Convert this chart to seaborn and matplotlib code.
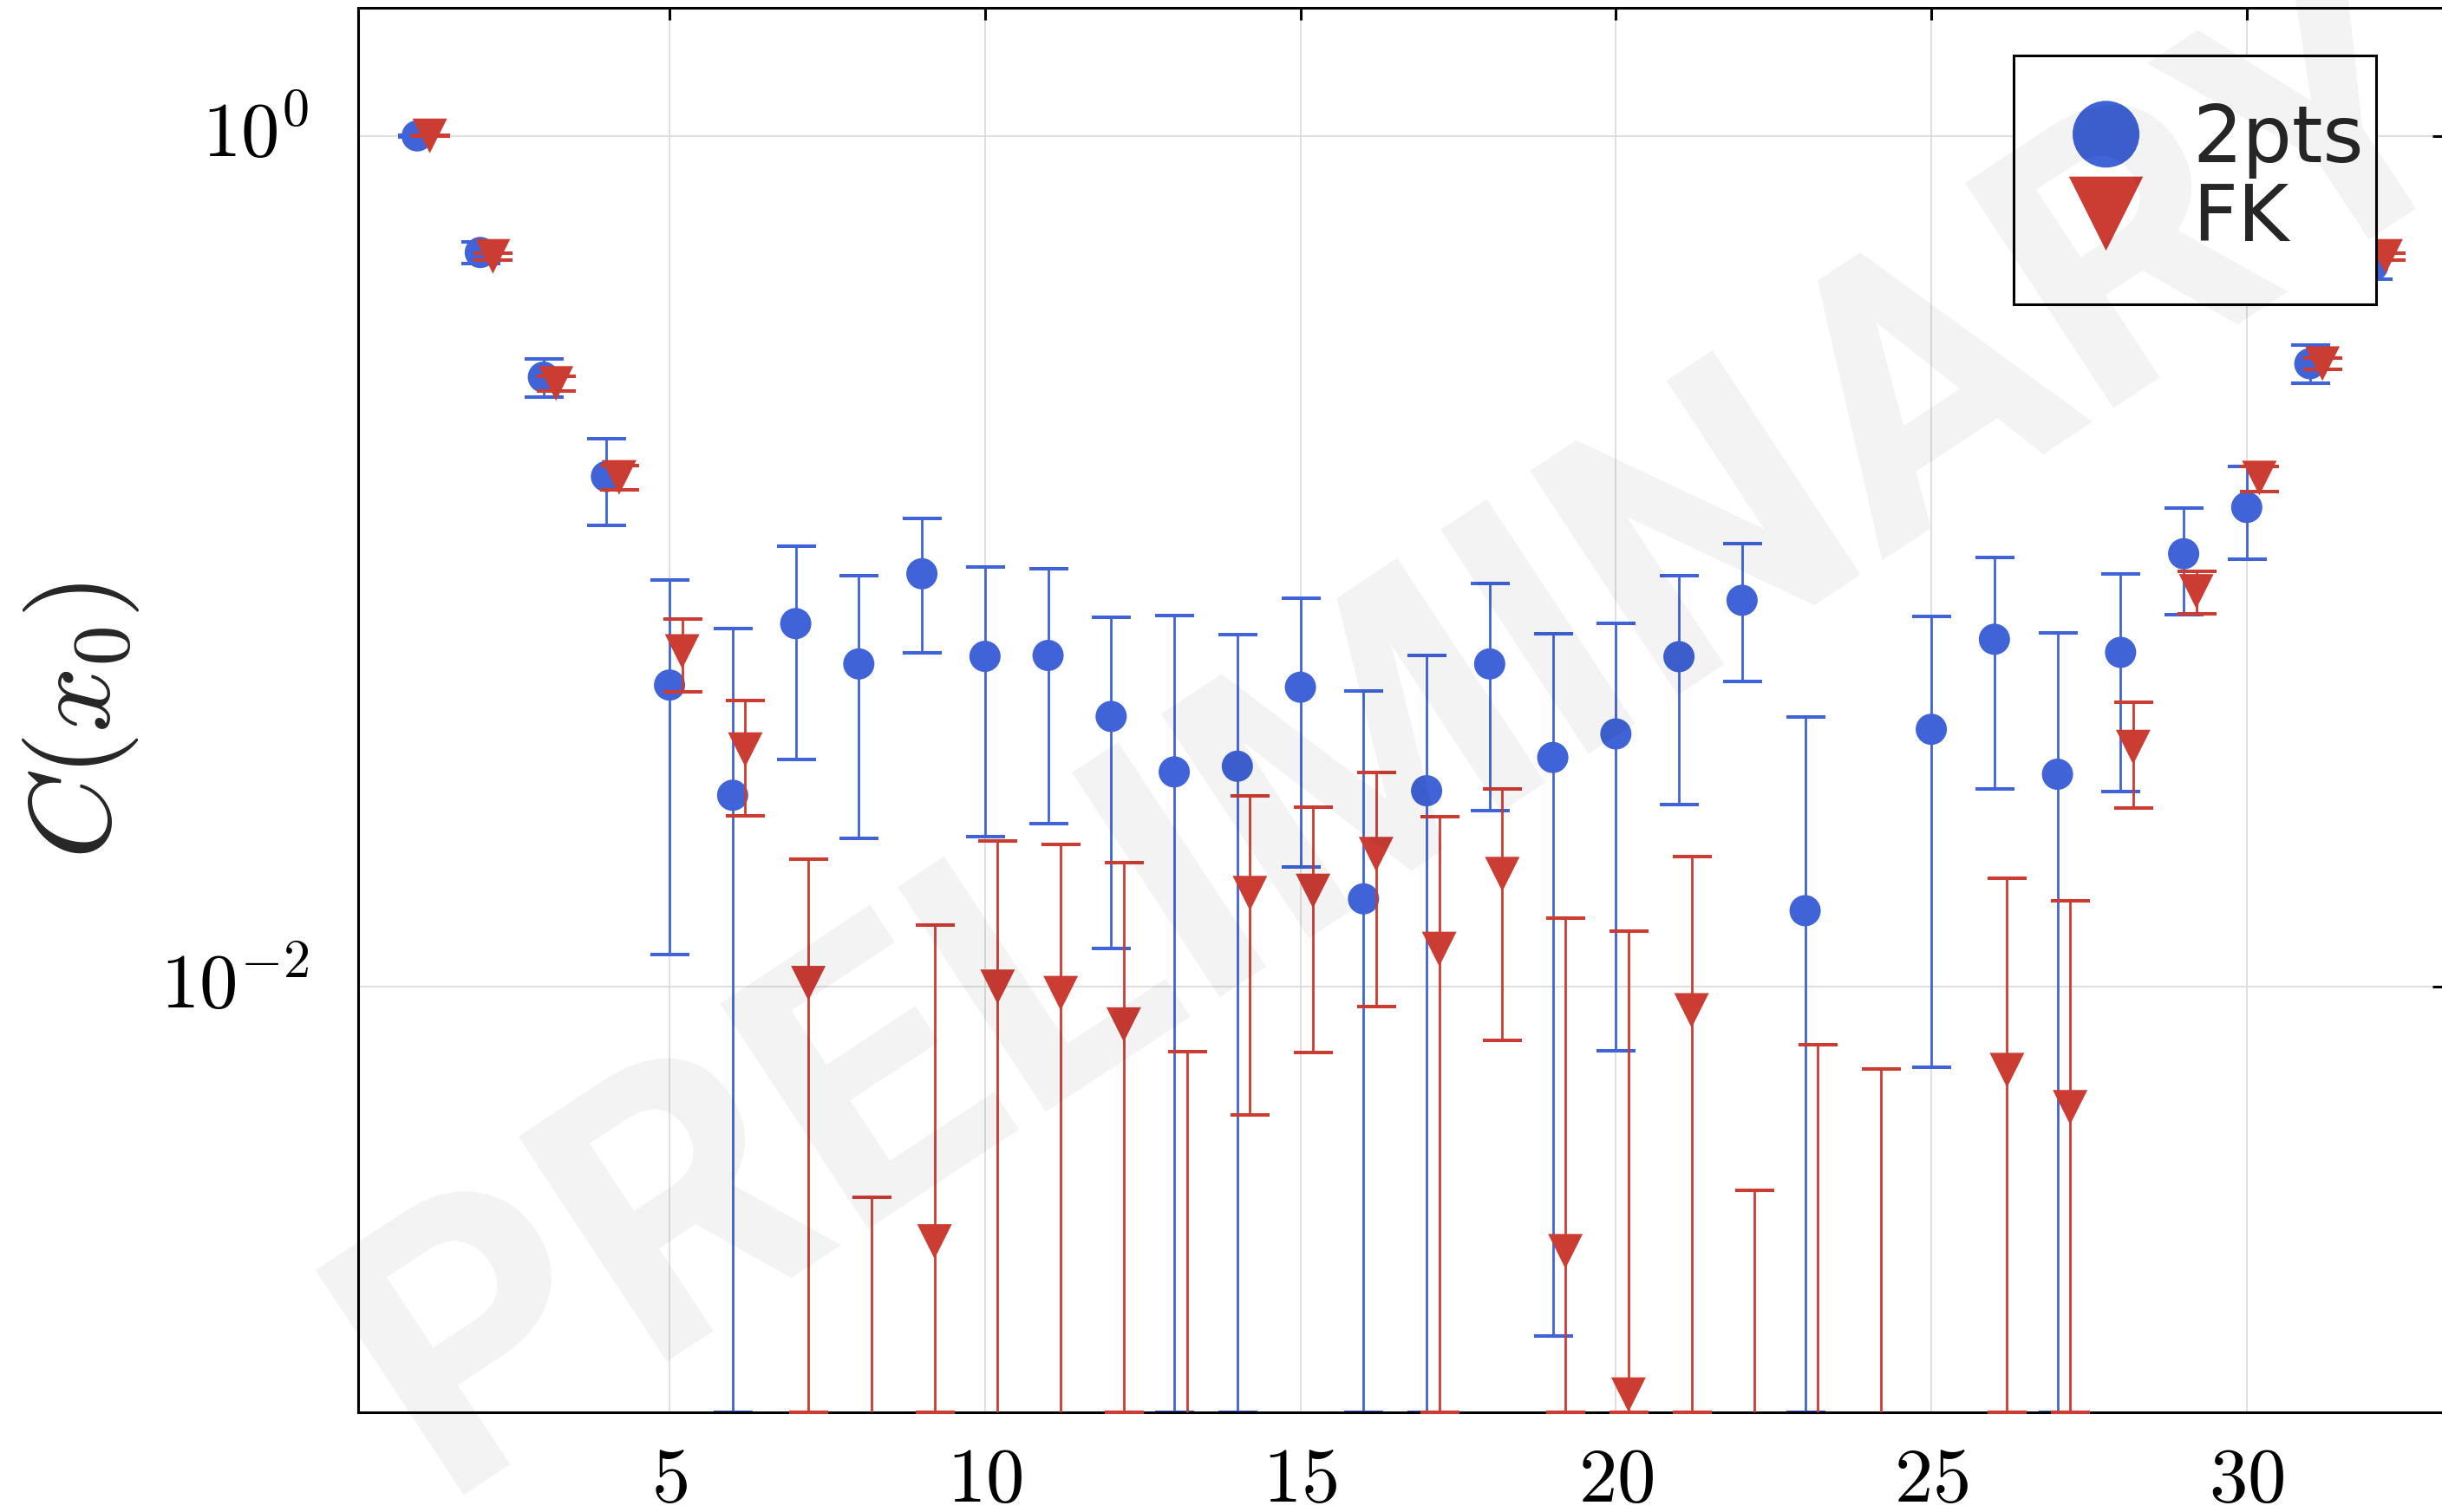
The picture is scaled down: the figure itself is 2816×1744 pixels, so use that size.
import numpy as np
import pandas as pd
import matplotlib
matplotlib.use("Agg")
import matplotlib.pyplot as plt
from matplotlib.ticker import NullLocator
import seaborn as sns

# ---------------------------------------------------------------- data
# Euclidean time slices
x0 = np.arange(1, 33)
fk_shift = 0.2

# two-point correlator: central value and error-bar ends (nan = no estimate)
c_2pts = [1.0, 0.532, 0.271, 0.1583, 0.0512, 0.0282, 0.0714, 0.0574, 0.0935, 0.0598,
          0.0601, 0.0432, 0.0320, 0.0330, 0.0506, 0.0161, 0.0289, 0.0574, 0.0346, 0.0393,
          0.0597, 0.0810, 0.0151, np.nan, 0.0403, 0.0656, 0.0316, 0.0611, 0.1042, 0.1339,
          0.2914, 0.4957]
lo_2pts = [0.996, 0.502, 0.2434, 0.1217, 0.0119, 1e-3, 0.0342, 0.0223, 0.0609, 0.0225,
           0.0242, 0.0123, 1e-3, 1e-3, 0.0191, 1e-3, 1e-3, 0.0259, 0.00151, 0.00706,
           0.0268, 0.0522, 1e-3, np.nan, 0.00646, 0.0292, 1e-3, 0.0288, 0.0749, 0.1012,
           0.2617, 0.4615]
hi_2pts = [1.004, 0.563, 0.2985, 0.1941, 0.0905, 0.0694, 0.1085, 0.0926, 0.1264, 0.0970,
           0.0963, 0.0740, 0.0745, 0.0674, 0.0820, 0.0497, 0.0602, 0.0889, 0.0677, 0.0716,
           0.0926, 0.1100, 0.0431, np.nan, 0.0743, 0.1020, 0.0679, 0.0935, 0.1336, 0.1673,
           0.3222, 0.530]

# FK correlator
c_fk = [1.0, 0.521, 0.2619, 0.1575, 0.0614, 0.0361, 0.0102, np.nan, 0.00252, 0.0100,
        0.00966, 0.00815, np.nan, 0.0166, 0.0168, 0.0205, 0.01227, 0.0184, 0.00239, 0.0011,
        0.0088, np.nan, np.nan, np.nan, np.nan, 0.00637, 0.00521, 0.0366, 0.0850, 0.157,
        0.2916, 0.521]
lo_fk = [0.997, 0.511, 0.2513, 0.1474, 0.0494, 0.0252, 1e-3, 1e-4, 1e-3, 1e-4,
         1e-4, 1e-3, 1e-4, 0.0050, 0.0070, 0.0090, 1e-3, 0.0075, 1e-3, 1e-3,
         1e-3, 1e-4, 1e-4, 1e-4, np.nan, 1e-3, 1e-3, 0.0263, 0.0752, 0.146,
         0.2826, 0.511]
hi_fk = [1.003, 0.531, 0.2725, 0.1677, 0.0733, 0.0470, 0.01995, 0.0032, 0.01396, 0.0220,
         0.0216, 0.01956, 0.00703, 0.0281, 0.0264, 0.0319, 0.02508, 0.0292, 0.01447, 0.0135,
         0.02027, 0.00333, 0.00732, 0.0064, np.nan, 0.01799, 0.01592, 0.0466, 0.0947, 0.1673,
         0.3006, 0.531]

series_names = ["2pts", "FK"]
x_ticks = [5, 10, 15, 20, 25, 30]
x_tick_labels = [r"$5$", r"$10$", r"$15$", r"$20$", r"$25$", r"$30$"]
y_ticks = [1.0, 1e-2]
y_tick_labels = [r"$10^{0}$", r"$10^{-2}$"]
y_label = r"$C(x_0)$"
watermark = "PRELIMINARY"

# ---------------------------------------------------------------- style
sns.set_style("white")
plt.rcParams["font.family"] = ["DejaVu Sans"]
plt.rcParams["mathtext.fontset"] = "cm"

BLUE = "#4063D8"
RED = "#CB3C33"
YMIN, YMAX = 1e-3, 2.0

fig = plt.figure(figsize=(14.08, 8.72), dpi=200)
ax = fig.add_axes([0.14666, 0.06594, 0.8544, 0.9289])
ax.set_yscale("log")
ax.set_xlim(0.064, 33.136)
ax.set_ylim(YMIN, YMAX)

df = pd.concat([
    pd.DataFrame({"x": x0, "c": c_2pts, "lo": lo_2pts, "hi": hi_2pts, "series": series_names[0]}),
    pd.DataFrame({"x": x0 + fk_shift, "c": c_fk, "lo": lo_fk, "hi": hi_fk, "series": series_names[1]}),
], ignore_index=True)

styles = {
    "2pts": dict(color=BLUE, marker="o", s=168, z=2),
    "FK": dict(color=RED, marker="v", s=207, z=4),
}

for name in series_names:
    d = df[df["series"] == name].dropna(subset=["hi"])
    st = styles[name]
    ax.vlines(d["x"], d["lo"], d["hi"], colors=st["color"], linewidth=1.0, zorder=st["z"])
    caps_hi = d
    caps_lo = d[d["lo"] >= YMIN]
    for caps, col in ((caps_hi, "hi"), (caps_lo, "lo")):
        ax.plot(caps["x"], caps[col], linestyle="none", marker="_", markersize=16.2,
                markeredgewidth=1.45, color=st["color"], zorder=st["z"], clip_on=False,
                solid_capstyle="round")
    pts = d.dropna(subset=["c"])
    sns.scatterplot(data=pts, x="x", y="c", ax=ax, color=st["color"], marker=st["marker"],
                    s=st["s"], linewidth=0, edgecolor="none", label=name,
                    zorder=st["z"] + 0.5, legend=True)

# ---------------------------------------------------------------- axes cosmetics
ax.set_xticks(x_ticks, labels=x_tick_labels)
ax.set_yticks(y_ticks, labels=y_tick_labels)
ax.yaxis.set_minor_locator(NullLocator())
ax.xaxis.set_minor_locator(NullLocator())
ax.tick_params(which="both", direction="in", top=True, right=True, length=5, width=1.1,
               labelsize=32, colors="black")
ax.tick_params(axis="x", pad=12.5)
ax.tick_params(axis="y", pad=20.5)
for lbl in ax.get_yticklabels():
    lbl.set_verticalalignment("center")
ax.grid(True, which="major", color="#d9d9d9", linewidth=0.6)
ax.set_axisbelow(True)
for sp in ax.spines.values():
    sp.set_color("black")
    sp.set_linewidth(1.1)
    sp.set_visible(True)

ax.set_xlabel("")
ax.set_ylabel(y_label, fontsize=48)
ax.yaxis.set_label_coords(-0.104, 0.492)

leg = ax.legend(loc="upper left", bbox_to_anchor=(0.7934, 0.792, 0.1737, 0.174), mode="expand",
                borderaxespad=0, borderpad=0.59, handlelength=1.176, handletextpad=0.51,
                labelspacing=0.04, markerscale=2.14, scatteryoffsets=[0.5], frameon=True,
                fancybox=False, framealpha=1, edgecolor="black", facecolor="white",
                prop={"family": "DejaVu Sans", "size": 32.6})
leg.get_frame().set_linewidth(1.1)

# ---------------------------------------------------------------- watermark
fig.text(0.5994, 0.457, watermark, rotation=33.4, rotation_mode="anchor",
         ha="center", va="baseline", fontsize=157, fontweight="bold",
         family=["Roboto", "DejaVu Sans"], color="black", alpha=0.05, zorder=10)

fig.savefig("out.png", dpi=200)
